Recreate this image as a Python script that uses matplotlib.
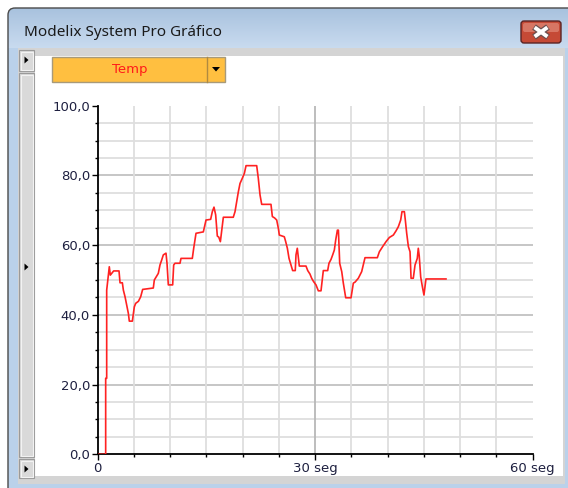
import matplotlib
matplotlib.use('Agg')
import matplotlib.pyplot as plt
from matplotlib.patches import Rectangle, FancyBboxPatch, Polygon
import numpy as np

# ---------------- data ----------------
time_s = [0, 1.10, 1.10, 1.24, 1.24, 1.47, 1.60, 1.74, 1.93, 2.20, 2.94, 3.08, 3.40,
          3.54, 3.77, 4.04, 4.23, 4.36, 4.78, 5.05, 5.24, 5.62, 5.93, 6.20, 7.67, 7.81,
          8.36, 8.59, 8.82, 9.05, 9.42, 9.56, 9.74, 10.34, 10.48, 10.66, 11.35, 11.49,
          13.05, 13.24, 13.56, 14.57, 14.94, 15.58, 15.81, 16.04, 16.27, 16.50, 16.70,
          16.92, 17.33, 18.70, 18.94, 19.17, 19.40, 19.63, 19.95, 20.23, 20.46, 21.93,
          22.15, 22.39, 22.62, 23.90, 24.09, 24.40, 24.69, 24.92, 25.05, 25.74, 25.93,
          26.16, 26.39, 26.66, 26.89, 27.25, 27.35, 27.53, 27.65, 27.81, 28.73, 28.97,
          29.28, 29.51, 29.79, 30.11, 30.43, 30.80, 31.12, 31.72, 31.90, 32.18, 32.41,
          32.64, 32.83, 33.06, 33.20, 33.38, 33.66, 33.88, 34.21, 34.94, 35.26, 35.50,
          35.95, 36.41, 36.87, 38.57, 38.85, 39.31, 39.77, 40.23, 40.78, 41.15, 41.47,
          41.79, 41.97, 42.30, 42.43, 42.62, 42.85, 43.08, 43.22, 43.53, 43.77, 44.08,
          44.22, 44.35, 44.55, 44.78, 45.00, 45.28, 48.04]
temp = [0, 0, 21.8, 21.8, 47.1, 51.4, 53.8, 51.4, 51.9, 52.6, 52.6, 49.2, 49.2,
        47.1, 45.2, 42.3, 40.4, 38.2, 38.2, 42.3, 43.3, 43.9, 45.2, 47.3, 47.7, 50.0,
        51.9, 54.3, 55.7, 57.2, 57.7, 54.8, 48.6, 48.6, 54.3, 54.8, 54.8, 56.2,
        56.2, 59.1, 63.4, 63.8, 67.2, 67.4, 69.6, 70.9, 68.7, 62.6, 62.3,
        61.0, 68.0, 68.0, 69.6, 72.5, 75.3, 77.7, 79.2, 80.6, 82.8, 82.8,
        79.2, 74.4, 71.7, 71.7, 68.2, 67.8, 67.2, 64.8, 62.9, 62.4, 61.0,
        59.1, 56.2, 54.3, 52.7, 52.7, 57.2, 59.1, 56.9, 54.0, 54.0, 52.7,
        51.7, 50.5, 49.5, 48.6, 46.9, 46.9, 52.7, 52.7, 54.8, 55.9, 57.2,
        58.6, 61.5, 64.3, 64.3, 54.8, 52.4, 49.1, 44.9, 44.9, 49.1, 49.4,
        50.5, 52.4, 56.4, 56.4, 58.1, 59.6, 61.0, 62.2, 62.9, 64.1, 65.3,
        67.2, 69.6, 69.6, 67.2, 63.4, 59.6, 58.1, 50.5, 50.5, 54.3, 56.2,
        59.1, 56.9, 50.9, 48.1, 45.7, 50.3, 50.3]

y_ticks = [0, 20, 40, 60, 80, 100]
y_tick_labels = ['0,0', '20,0', '40,0', '60,0', '80,0', '100,0']
x_ticks = [0, 30, 60]
x_tick_labels = ['0', '30 seg', '60 seg']
series_name = 'Temp'
window_title = 'Modelix System Pro Gráfico'

# ---------------- figure / window chrome ----------------
W, H = 568, 488
fig = plt.figure(figsize=(W / 100, H / 100), dpi=100)
fig.patch.set_facecolor('white')
bg = fig.add_axes([0, 0, 1, 1])
bg.set_xlim(0, W)
bg.set_ylim(H, 0)
bg.axis('off')

# frame gradient
ys = np.arange(8, H)
c_top = np.array([0.66, 0.76, 0.87])
c_mid = np.array([0.79, 0.86, 0.94])
c_side = np.array([0.73, 0.82, 0.92])
grad = np.zeros((len(ys), 1, 3))
for i, yy in enumerate(ys):
    if yy < 48:
        f = (yy - 8) / 40.0
        grad[i, 0] = c_top * (1 - f) + c_mid * f
    else:
        grad[i, 0] = c_side
frame = FancyBboxPatch((8, 8), 580, 500, boxstyle='round,pad=0,rounding_size=7',
                       fc='none', ec='#4a4a4a', lw=1.0, zorder=3)
bg.add_patch(frame)
im = bg.imshow(grad, extent=(8, W + 20, H, 8), aspect='auto', zorder=1)
im.set_clip_path(frame)
bg.set_xlim(0, W)
bg.set_ylim(H, 0)

# client area
bg.add_patch(Rectangle((18, 48), 547, 436, fc='#d4d4d4', ec='none', zorder=2))
bg.add_patch(Rectangle((35, 56), 528, 420, fc='white', ec='none', zorder=2))

# left column buttons
for (y0, h) in [(50, 21), (73, 384), (459, 19)]:
    bg.add_patch(Rectangle((19, y0), 15, h, fc='#d9d9d9', ec='#9a9a9a', lw=0.8, zorder=2.5))
    bg.add_patch(Rectangle((20.5, y0 + 1.5), 12, h - 3, fc='none', ec='#f2f2f2', lw=0.8, zorder=2.6))
for yc in [60, 267, 469]:
    bg.add_patch(Polygon([[24.5, yc - 3.5], [24.5, yc + 3.5], [28.5, yc]], closed=True,
                         fc='black', ec='none', zorder=3))

# dropdown
bg.add_patch(Rectangle((52, 57), 173, 25, fc='#ffbf40', ec='#a89a7a', lw=1.0, zorder=3))
bg.plot([207, 207], [57, 82], color='#b08a40', lw=1.0, zorder=4)
bg.add_patch(Polygon([[212, 67], [220, 67], [216, 71.5]], closed=True, fc='black', ec='none', zorder=4))
bg.text(130, 70, series_name, color='#ff1a1a', fontsize=9.5, ha='center', va='center',
        family='DejaVu Sans', zorder=5)

# title
bg.text(24, 33, window_title, color='#1a1a1a', fontsize=11, ha='left', va='center',
        family='Noto Sans', zorder=5)

# close button
bg.add_patch(FancyBboxPatch((521, 21), 40, 22, boxstyle='round,pad=0,rounding_size=3',
                            fc='#c54a36', ec='#5a2424', lw=1.0, zorder=4))
bg.add_patch(FancyBboxPatch((523, 23), 36, 9, boxstyle='round,pad=0,rounding_size=2',
                            fc='#df8a78', ec='none', alpha=0.7, zorder=4.5))
x_strokes = [(534, 27, 548, 37), (534, 37, 548, 27)]
for (xa, ya, xb, yb) in x_strokes:
    bg.plot([xa, xb], [ya, yb], color='#6a5050', lw=4.6, solid_capstyle='butt', zorder=6)
for (xa, ya, xb, yb) in x_strokes:
    bg.plot([xa + 0.6, xb - 0.6], [ya + (0.4 if ya < yb else -0.4), yb - (0.4 if ya < yb else -0.4)],
            color='white', lw=2.8, solid_capstyle='butt', zorder=7)

# ---------------- chart ----------------
x0, x1 = 97.7, 532.7
y0p, y1p = 454.3, 105.7
ax = fig.add_axes([x0 / W, (H - y0p) / H, (x1 - x0) / W, (y0p - y1p) / H])
ax.set_zorder(10)
ax.patch.set_alpha(0)
ax.set_xlim(0, 60)
ax.set_ylim(0, 100)

for v in range(5, 100, 5):
    major = (v % 20 == 0)
    ax.axhline(v, color='#c2c2c2' if major else '#dedede', lw=1.3, zorder=1)
for t in range(5, 60, 5):
    major = (t % 30 == 0)
    ax.axvline(t, color='#b8b8b8' if major else '#dedede', lw=1.3, zorder=1)

ax.plot(time_s, temp, color='#ff2222', lw=1.2, zorder=3)

for s in ['top', 'right']:
    ax.spines[s].set_visible(False)
for s in ['left', 'bottom']:
    ax.spines[s].set_color('black')
    ax.spines[s].set_linewidth(1.3)

ax.set_yticks(y_ticks)
ax.set_yticklabels(y_tick_labels)
ax.set_yticks(np.arange(0, 101, 5), minor=True)
ax.set_xticks(x_ticks)
ax.set_xticklabels(x_tick_labels)
ax.set_xticks(np.arange(0, 61, 5), minor=True)
ax.tick_params(axis='both', which='major', length=4, width=1, color='black',
               labelsize=9.5, labelcolor='#1e2040', pad=1.5)
ax.tick_params(axis='both', which='minor', length=2.2, width=1, color='black')
for lab in ax.get_xticklabels() + ax.get_yticklabels():
    lab.set_family('DejaVu Sans')

fig.savefig('out.png', dpi=100)
